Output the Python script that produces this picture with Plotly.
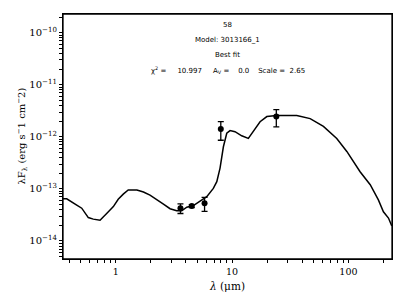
import numpy as np
import plotly.graph_objects as go

# Model SED curve (wavelength in micron, lambda*F_lambda in erg s^-1 cm^-2)
model_wav = [0.352, 0.379, 0.462, 0.510, 0.581, 0.641, 0.733, 0.782, 0.864, 0.954,
             1.05, 1.16, 1.28, 1.52, 1.73, 1.97, 2.25, 2.57, 2.93, 3.34, 3.69,
             4.08, 4.65, 5.31, 6.06, 6.90, 7.39, 7.88, 8.42, 9.00, 9.61, 10.6,
             12.1, 13.8, 15.2, 17.4, 19.9, 24.2, 36.0, 46.9, 61.0, 79.4, 96.9,
             126, 154, 181, 200, 221, 236]
model_logf = [-13.19, -13.19, -13.31, -13.37, -13.55, -13.58, -13.60, -13.53, -13.44, -13.34,
              -13.20, -13.10, -13.02, -13.02, -13.06, -13.12, -13.20, -13.29, -13.38, -13.42, -13.42,
              -13.35, -13.32, -13.23, -13.15, -12.99, -12.86, -12.60, -12.19, -11.93, -11.88, -11.90,
              -11.98, -12.03, -11.90, -11.71, -11.61, -11.59, -11.59, -11.65, -11.80, -12.03, -12.28,
              -12.67, -12.92, -13.21, -13.44, -13.56, -13.71]
model_flux = [10 ** v for v in model_logf]

# Observed photometry
obs_wav = [3.6, 4.5, 5.8, 8.0, 24.0]
obs_flux = [4.27e-14, 4.7e-14, 5.3e-14, 1.41e-12, 2.45e-12]
obs_err = [0.9e-14, 0.3e-14, 1.6e-14, 0.55e-12, 0.9e-12]

title_lines = ["58", "Model: 3013166_1", "Best fit",
               "χ<sup>2</sup> =     10.997     A<sub>V</sub> =    0.0    Scale =  2.65"]

x_lo, x_hi = 0.352, 237
y_lo, y_hi = -14.346, -9.64
x_range = [np.log10(x_lo), np.log10(x_hi)]
y_range = [y_lo, y_hi]

# all tick positions (decades labelled, others minor)
x_tickvals, x_ticktext = [], []
for e in range(-1, 3):
    for m in range(1, 10):
        v = m * 10.0 ** e
        if x_lo <= v <= x_hi:
            x_tickvals.append(v)
            x_ticktext.append(f"{10.0 ** e:g}" if m == 1 else "")
y_tickvals, y_ticktext = [], []
for e in range(-15, -9):
    for m in range(1, 10):
        v = m * 10.0 ** e
        if y_lo <= np.log10(v) <= y_hi:
            y_tickvals.append(v)
            y_ticktext.append(f"10<sup>−{-e}</sup>" if m == 1 else "")

W, H = 406, 304
ML, MR, MT, MB = 63, 14, 14, 45
PW, PH = W - ML - MR, H - MT - MB

fig = go.Figure()
fig.add_trace(go.Scatter(x=model_wav, y=model_flux, mode="lines",
                         line=dict(color="black", width=1.5), showlegend=False))
fig.add_trace(go.Scatter(x=obs_wav, y=obs_flux, mode="markers",
                         marker=dict(color="black", size=6),
                         error_y=dict(type="data", array=obs_err, color="black",
                                      thickness=1.3, width=3),
                         showlegend=False))

serif = "DejaVu Serif"
line_px = [25, 40, 55, 70]
for t, px in zip(title_lines, line_px):
    fig.add_annotation(text=t, x=0.5, y=(H - MB - px) / PH, xref="paper", yref="paper",
                       yanchor="middle", showarrow=False,
                       font=dict(family="DejaVu Sans", size=7, color="black"))

# y-axis title
fig.add_annotation(text="λF<sub>λ</sub> (erg s<sup>−</sup>1 cm<sup>−</sup>2)",
                   x=-42 / PW, y=0.5, xref="paper", yref="paper", textangle=-90,
                   xanchor="center", yanchor="middle", showarrow=False,
                   font=dict(family=serif, size=10, color="black"))

fig.update_layout(
    width=W, height=H,
    margin=dict(l=ML, r=MR, t=MT, b=MB),
    paper_bgcolor="white", plot_bgcolor="white",
    shapes=[dict(type="rect", xref="paper", yref="paper", x0=0, x1=1, y0=0, y1=1,
                 line=dict(color="black", width=1.3), layer="above")],
    xaxis=dict(
        type="log", range=x_range,
        tickmode="array", tickvals=x_tickvals, ticktext=x_ticktext, automargin=False,
        ticks="outside", ticklen=3, tickwidth=1, tickcolor="black",
        showline=True, linecolor="black", linewidth=1.3, mirror=True,
        showgrid=False, zeroline=False,
        tickfont=dict(family=serif, size=9.5, color="black"),
        title=dict(text="<i>λ</i> (μm)", font=dict(family=serif, size=10.5, color="black"), standoff=7),
    ),
    yaxis=dict(
        type="log", range=y_range,
        tickmode="array", tickvals=y_tickvals, ticktext=y_ticktext, automargin=False,
        ticks="outside", ticklen=3, tickwidth=1, tickcolor="black",
        showline=True, linecolor="black", linewidth=1.3, mirror=True,
        showgrid=False, zeroline=False,
        tickfont=dict(family=serif, size=10, color="black"),
    ),
)

fig.write_html(
    "out.html", config={"displayModeBar": False},
    post_script=("document.body.style.margin='0px';"
                 "document.body.style.overflow='hidden';"
                 "document.documentElement.style.overflow='hidden';"),
)
